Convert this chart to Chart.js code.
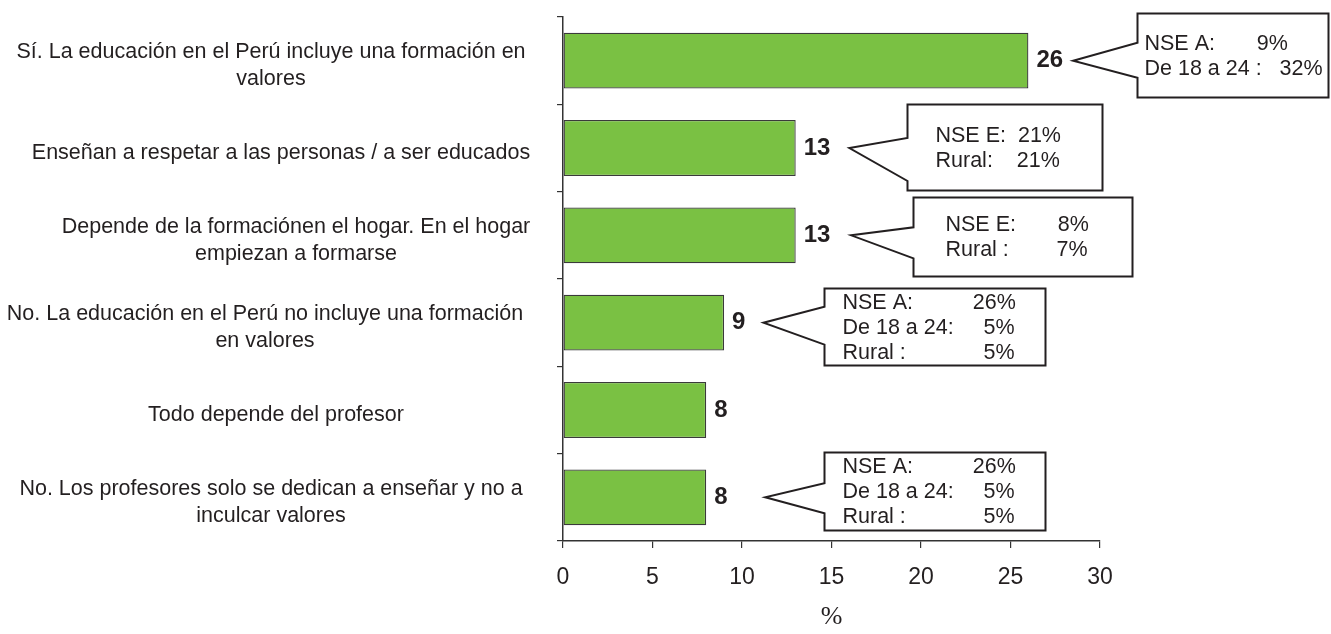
<!DOCTYPE html>
<html>
<head>
<meta charset="utf-8">
<script src="https://cdn.jsdelivr.net/npm/chart.js@4.4.0/dist/chart.umd.min.js"></script>
<style>
html,body{margin:0;padding:0;background:#fff;}
#wrap{position:relative;width:1331px;height:634px;}
</style>
</head>
<body>
<div id="wrap"><canvas id="c"></canvas></div>
<script>
// ---------------- DATA ----------------
const categories = [
  ["Sí. La educación en el Perú incluye una formación en", "valores"],
  ["Enseñan a respetar a las personas / a ser educados"],
  ["Depende de la formaciónen el hogar. En el hogar", "empiezan a formarse"],
  ["No. La educación en el Perú no incluye una formación", "en valores"],
  ["Todo depende del profesor"],
  ["No. Los profesores solo se dedican a enseñar y no a", "inculcar valores"]
];
const values = [26, 13, 13, 9, 8, 8];
const xTickValues = [0, 5, 10, 15, 20, 25, 30];
const xAxisTitle = "%";
const calloutBarIndex = [0, 1, 2, 3, 5];
const calloutTexts = [
  ["NSE A:       9%", "De 18 a 24 :   32%"],
  ["NSE E:  21%", "Rural:    21%"],
  ["NSE E:       8%", "Rural :        7%"],
  ["NSE A:          26%", "De 18 a 24:     5%", "Rural :             5%"],
  ["NSE A:          26%", "De 18 a 24:     5%", "Rural :             5%"]
];

// ---------------- LAYOUT / STYLE ----------------
const TEXT = '#231f20';
const AXIS = '#333333';
const BAR = '#7ac143';
const FONT = "'Liberation Sans', Arial, sans-serif";
const labelCenterX = 277;
const labelNudge = [-6, 4, 19, -12, -1, -6];
// tip/left/right in x-axis units (pixels through the scale), y offsets in px from bar centre
const calloutLayout = [
  {tip: 28.5, left: 32.07, right: 42.75, top: -48, bottom: 36, baseUp: -18, baseDown: 17, padL: 7},
  {tip: 16.0, left: 19.2,  right: 30.1,  top: -44, bottom: 42, baseUp: -10, baseDown: 33, padL: 28},
  {tip: 16.1, left: 19.55, right: 31.8,  top: -38, bottom: 41, baseUp: -8,  baseDown: 23, padL: 32},
  {tip: 11.2, left: 14.6,  right: 26.9,  top: -35, bottom: 42, baseUp: -16, baseDown: 22, padL: 18},
  {tip: 11.3, left: 14.6,  right: 26.9,  top: -45, bottom: 33, baseUp: -14, baseDown: 16, padL: 18}
];

const categoryLabelPlugin = {
  id: 'catLabels',
  afterDraw(chart) {
    const ctx = chart.ctx;
    const y = chart.scales.y;
    ctx.save();
    ctx.font = '21.5px ' + FONT;
    ctx.fillStyle = TEXT;
    ctx.textAlign = 'center';
    ctx.textBaseline = 'middle';
    const lh = 27;
    categories.forEach((lines, i) => {
      const cy = y.getPixelForValue(i) + 5;
      const cx = labelCenterX + labelNudge[i];
      const start = cy - (lines.length - 1) * lh / 2;
      lines.forEach((t, k) => ctx.fillText(t, cx, start + k * lh));
    });
    ctx.restore();
  }
};

const valueLabelPlugin = {
  id: 'valLabels',
  afterDatasetsDraw(chart) {
    const ctx = chart.ctx;
    const meta = chart.getDatasetMeta(0);
    ctx.save();
    ctx.font = 'bold 24px ' + FONT;
    ctx.fillStyle = TEXT;
    ctx.textAlign = 'left';
    ctx.textBaseline = 'middle';
    meta.data.forEach((bar, i) => {
      ctx.fillText(String(values[i]), bar.x + 8, bar.y);
    });
    ctx.restore();
  }
};

const calloutPlugin = {
  id: 'callouts',
  afterDatasetsDraw(chart) {
    const ctx = chart.ctx;
    const xs = chart.scales.x;
    const meta = chart.getDatasetMeta(0);
    ctx.save();
    calloutBarIndex.forEach((bi, k) => {
      const L = calloutLayout[k];
      const cy = meta.data[bi].y;
      const tipX = xs.getPixelForValue(L.tip);
      const bl = Math.round(xs.getPixelForValue(L.left)) + 0.5;
      const br = Math.round(xs.getPixelForValue(L.right)) + 0.5;
      const bt = Math.round(cy + L.top) + 0.5;
      const bb = Math.round(cy + L.bottom) + 0.5;
      ctx.beginPath();
      ctx.moveTo(bl, bt);
      ctx.lineTo(br, bt);
      ctx.lineTo(br, bb);
      ctx.lineTo(bl, bb);
      ctx.lineTo(bl, cy + L.baseDown);
      ctx.lineTo(tipX, cy);
      ctx.lineTo(bl, cy + L.baseUp);
      ctx.closePath();
      ctx.fillStyle = '#ffffff';
      ctx.fill();
      ctx.lineWidth = 2;
      ctx.strokeStyle = '#231f20';
      ctx.lineJoin = 'miter';
      ctx.stroke();
      const lines = calloutTexts[k];
      const lh = 25;
      const mid = (bt + bb) / 2 + 1;
      const start = mid - (lines.length - 1) * lh / 2;
      ctx.font = '21.5px ' + FONT;
      ctx.fillStyle = TEXT;
      ctx.textAlign = 'left';
      ctx.textBaseline = 'middle';
      lines.forEach((t, j) => ctx.fillText(t, bl + L.padL, start + j * lh));
    });
    ctx.restore();
  }
};

new Chart(document.getElementById('c'), {
  type: 'bar',
  data: {
    labels: categories,
    datasets: [{
      data: values,
      backgroundColor: BAR,
      borderColor: '#3a3a3a',
      borderWidth: 1.3,
      borderSkipped: false,
      categoryPercentage: 0.8,
      barPercentage: 0.8
    }]
  },
  options: {
    indexAxis: 'y',
    responsive: true,
    maintainAspectRatio: false,
    animation: false,
    devicePixelRatio: 1,
    layout: {padding: {left: 0, right: 231, top: 17, bottom: 0}},
    plugins: {legend: {display: false}, tooltip: {enabled: false}, title: {display: false}},
    scales: {
      x: {
        type: 'linear',
        min: 0, max: 30,
        afterBuildTicks(s) { s.ticks = xTickValues.map(v => ({value: v})); },
        afterFit(s) { s.height = 93; },
        ticks: {
          font: {family: FONT, size: 23, lineHeight: 1.2},
          color: TEXT,
          padding: 16,
          maxRotation: 0,
          callback: v => String(v)
        },
        grid: {display: true, drawOnChartArea: false, drawTicks: true, tickLength: 7, color: AXIS, lineWidth: 1.2},
        border: {display: true, color: AXIS, width: 1.5},
        title: {
          display: true, text: xAxisTitle, color: TEXT,
          font: {family: "'Liberation Serif', 'Times New Roman', serif", size: 26, lineHeight: 1},
          padding: {top: 0, bottom: 4}
        }
      },
      y: {
        type: 'category',
        offset: true,
        afterFit(s) { s.width = 563; },
        ticks: {display: false},
        grid: {display: true, drawOnChartArea: false, drawTicks: true, tickLength: 6, offset: true, color: AXIS, lineWidth: 1.2},
        border: {display: true, color: AXIS, width: 1.5}
      }
    }
  },
  plugins: [categoryLabelPlugin, valueLabelPlugin, calloutPlugin]
});
</script>
</body>
</html>
